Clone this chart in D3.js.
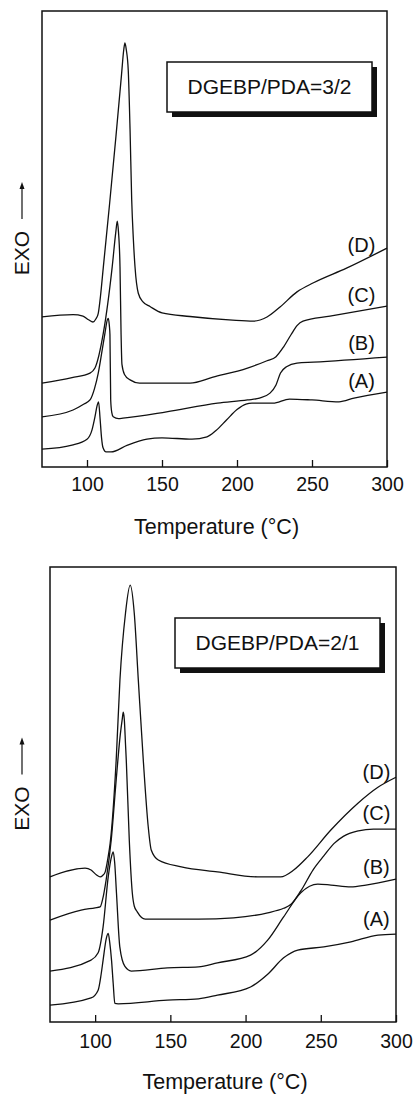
<!DOCTYPE html>
<html>
<head>
<meta charset="utf-8">
<script src="https://cdn.jsdelivr.net/npm/d3@7"></script>
<style>
    body { margin: 0; background: #fff; }
    svg { display: block; font-family: "Liberation Sans", Arial, sans-serif; }
</style>
</head>
<body>
<svg id="chart" width="413" height="1095"></svg>
<script>
const xTicks = [100, 150, 200, 250, 300];
const curveNames = ['(A)', '(B)', '(C)', '(D)'];
const xTitle = 'Temperature (\u00B0C)';
const yTitle = 'EXO';

// DGEBP/PDA = 3/2, each point is [temperature, heat flow (arb. units)]
const topA = [[70,3.9],[90,4.8],[100,6.1],[103.3,8.1],[105.3,11.0],[106.7,13.4],[107.7,14.3],[108.7,10.7],[109.7,6.4],[110.7,4.2],[112.7,3.3],[116,3.3],[127,4.8],[140,6.1],[150,6.4],[170,6.1],[180,6.6],[186,8.0],[193,10.3],[200,12.6],[206,13.8],[210,14.0],[224,14.0],[235,14.9],[250,14.7],[268,14.3],[278,15.1],[300,16.4]];
const topB = [[70,11.0],[90.7,12.5],[98,13.8],[102,14.7],[105,17.2],[107.5,20.6],[110,25.4],[112,29.4],[113.5,32.2],[114.2,32.6],[114.9,31.0],[115.3,29.0],[115.8,14.7],[116.5,12.0],[117.5,11.0],[121,10.6],[124,10.7],[153,12.1],[187,14.0],[207,14.7],[215,15.1],[222,16.2],[226,18.0],[229,20.6],[233,22.0],[240,22.8],[251,23.0],[300,24.1]];
const topC = [[70,18.4],[90,19.6],[102,20.6],[105.3,21.7],[110.9,29.4],[116.8,43.9],[119.2,51.5],[120.2,53.9],[121,51.5],[122,43.9],[122.7,29.4],[123.3,22.5],[125,20.3],[128.7,19.1],[135,18.4],[168.7,18.4],[184,19.7],[207,21.7],[220,23.3],[226,24.2],[231,26.3],[236,29.0],[240,31.0],[244,32.0],[262,33.1],[300,35.3]];
const topD = [[70,32.9],[90.7,33.4],[97.3,33.1],[101,32.3],[104,31.8],[106,32.5],[107.5,33.7],[109,37.5],[110.9,43.9],[115,57.5],[119.3,72.5],[123,86],[124.5,91.5],[125.3,93.0],[126.2,91.5],[127.5,87],[128.7,74],[129.8,58.6],[130.9,50],[132,43.9],[134.2,38.1],[137.3,36.2],[142,35.2],[150,33.8],[168.7,33.0],[197,32.2],[211,32.0],[220,32.9],[228.7,35.1],[240,38.4],[251,40.4],[273,43.6],[300,48.0]];

// DGEBP/PDA = 2/1
const botA = [[70,3.7],[97.3,5.3],[102,7.0],[104,10.5],[105.3,13.6],[107.5,18.5],[108.7,19.5],[109.7,17.5],[110.9,13.6],[112,8.5],[113.1,4.1],[115.3,4.0],[148,4.8],[168.7,5.1],[181.3,5.9],[203.3,7.7],[214.7,10.5],[225.3,14.1],[234.7,15.8],[252,16.5],[270,17.6],[288,19.1],[300,19.3]];
const botB = [[70,11.2],[97.3,13.6],[102,15.2],[105.3,20.9],[108.7,31.9],[111,36.5],[112,37.4],[113,35],[114.2,28.3],[116.4,16.5],[119.8,12.2],[124,11.2],[148,11.9],[168.7,12.1],[181.3,13.0],[203.3,14.7],[214.7,18.0],[225.3,23.1],[236.7,28.4],[248,30.3],[256.7,30.1],[270,29.7],[280,30.1],[300,31.4]];
const botC = [[70,22.4],[90.7,24.6],[100,25.1],[103.3,25.3],[105,27],[107.3,31.2],[110.7,40.0],[114,53.2],[116.7,63.1],[118,66.5],[118.7,68.1],[119.4,66.5],[120.2,61],[120.7,57.6],[122.7,40.0],[124.7,28.4],[126,25.5],[128,24.2],[133.3,22.6],[168.7,22.6],[192,22.9],[214.7,24.0],[225.3,25.0],[230,25.8],[236.7,28.8],[245,33.5],[252,36.5],[258.7,39.2],[265,40.8],[275,42],[285,42.4],[300,42.4]];
const botD = [[70,31.9],[93.3,33.8],[97.3,33.4],[101,32.3],[103.3,31.9],[105,32.2],[106.7,33.0],[108.5,36],[110,39.3],[114,57.6],[116.5,75.2],[120.2,89.9],[123.3,96.0],[126,89.9],[128.7,75.2],[132,57.6],[135.3,42.9],[137.3,37.8],[142,35.6],[157.3,34.1],[181.3,33.0],[208,31.9],[223.3,31.9],[232,33.4],[241.3,36.3],[256.7,42.2],[274.7,48.1],[288,51.6],[300,53.8]];

const panels = [
    { title: 'DGEBP/PDA=3/2', series: [topA, topB, topC, topD], left: 42, top: 11, w: 345, h: 456, tickPad: 10, labelT: 283, titleY: 534 },
    { title: 'DGEBP/PDA=2/1', series: [botA, botB, botC, botD], left: 50, top: 567, w: 346, h: 455, tickPad: 12, labelT: 287, titleY: 1089 }
];

const svg = d3.select('#chart');

panels.forEach(drawPanel);

function drawPanel(p) {
    const g = svg.append('g').attr('transform', 'translate(' + p.left + ',' + p.top + ')');

    const x = d3.scaleLinear().domain([70, 300]).range([0, p.w]);
    const y = d3.scaleLinear().domain([0, 100]).range([p.h, 0]);

    const line = d3.line()
        .curve(d3.curveMonotoneX)
        .x((d) => x(d[0]))
        .y((d) => y(d[1]));

    // curves
    g.selectAll('.trace')
        .data(p.series)
        .enter()
        .append('path')
        .attr('class', 'trace')
        .attr('d', line)
        .attr('fill', 'none')
        .attr('stroke', '#111')
        .attr('stroke-width', 1.3);

    // curve labels sit just above each trace
    g.selectAll('.curve-label')
        .data(p.series)
        .enter()
        .append('text')
        .attr('x', x(p.labelT))
        .attr('y', (d) => y(valueAt(d, p.labelT)) - 16)
        .attr('text-anchor', 'middle')
        .attr('dy', '0.35em')
        .attr('font-size', 20)
        .attr('fill', '#111')
        .text((d, i) => curveNames[i]);

    // bottom axis, ticks pointing inward
    const axis = g.append('g')
        .attr('transform', 'translate(0,' + p.h + ')')
        .call(d3.axisBottom(x)
            .tickValues(xTicks)
            .tickSizeInner(-7)
            .tickSizeOuter(0)
            .tickPadding(p.tickPad));
    axis.select('.domain').remove();
    axis.selectAll('line').attr('stroke', '#111').attr('stroke-width', 1.3);
    axis.selectAll('text')
        .attr('font-size', 19.5)
        .attr('font-family', '"Liberation Sans", Arial, sans-serif')
        .attr('fill', '#111');

    // frame
    g.append('rect')
        .attr('width', p.w)
        .attr('height', p.h)
        .attr('fill', 'none')
        .attr('stroke', '#111')
        .attr('stroke-width', 1.5);

    // boxed title with drop shadow
    const box = g.append('g').attr('transform', 'translate(125,51)');
    box.append('rect')
        .attr('x', 5).attr('y', 5)
        .attr('width', 205).attr('height', 50)
        .attr('fill', '#111');
    box.append('rect')
        .attr('width', 205).attr('height', 50)
        .attr('fill', '#fff')
        .attr('stroke', '#111')
        .attr('stroke-width', 1.5);
    box.append('text')
        .attr('x', 102.5).attr('y', 25)
        .attr('dy', '0.35em')
        .attr('text-anchor', 'middle')
        .attr('font-size', 21)
        .attr('fill', '#111')
        .text(p.title);

    // x title
    svg.append('text')
        .attr('x', p.left + p.w / 2 + 2)
        .attr('y', p.titleY)
        .attr('text-anchor', 'middle')
        .attr('font-size', 21.5)
        .attr('fill', '#111')
        .text(xTitle);

    // EXO with arrow
    const cy = p.top + p.h / 2;
    svg.append('text')
        .attr('transform', 'translate(29,' + (cy + 14) + ') rotate(-90)')
        .attr('text-anchor', 'middle')
        .attr('font-size', 21)
        .attr('fill', '#111')
        .text(yTitle);
    svg.append('line')
        .attr('x1', 22).attr('x2', 22)
        .attr('y1', cy - 20).attr('y2', cy - 52)
        .attr('stroke', '#111')
        .attr('stroke-width', 1.2);
    svg.append('path')
        .attr('d', 'M22,' + (cy - 57) + 'l-2.5,7h5z')
        .attr('fill', '#111');
}

function valueAt(pts, t) {
    for (let i = 1; i < pts.length; i++) {
        if (pts[i][0] >= t) {
            const a = pts[i - 1], b = pts[i];
            return a[1] + (b[1] - a[1]) * (t - a[0]) / (b[0] - a[0]);
        }
    }
    return pts[pts.length - 1][1];
}
</script>
</body>
</html>
